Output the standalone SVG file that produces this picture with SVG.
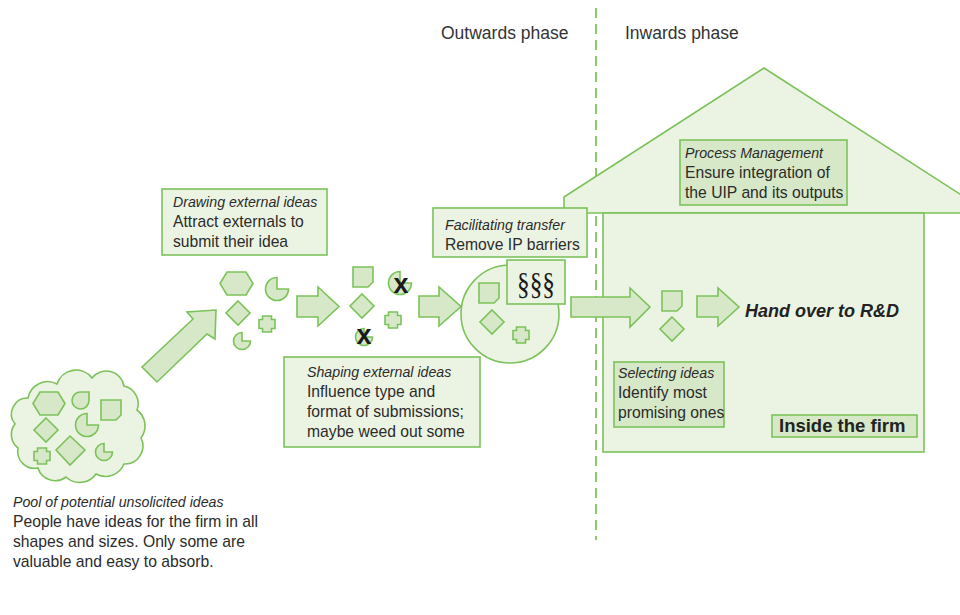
<svg xmlns="http://www.w3.org/2000/svg" width="960" height="615" viewBox="0 0 960 615">
<defs>
<style>
.ln{stroke:#7cc25a;stroke-width:1.6;stroke-linejoin:miter}
.lt{fill:#ebf4e3}
.dk{fill:#d6e8c7}
.t{font-family:"Liberation Sans",Arial,sans-serif;font-size:15.7px;fill:#2b2b2b}
.i{font-style:italic;font-size:14.2px}
.hd{font-family:"Liberation Sans",Arial,sans-serif;font-size:17.5px;fill:#333}
.x{font-family:"Liberation Sans",Arial,sans-serif;font-weight:bold;font-size:27px;fill:#1a1a1a}
</style>
<path id="sq" d="M0,0 H20 V15 L15,20 H0 Z"/>
<path id="cr" d="M-4.5,-8 H4.5 V-4.5 H8 V4.5 H4.5 V8 H-4.5 V4.5 H-8 V-4.5 H-4.5 Z"/>
<path id="dm" d="M0,-12 L12,0 L0,12 L-12,0 Z"/>
<path id="pac" d="M0,0 L0,-11.5 A11.5,11.5 0 1 0 11.5,0 Z"/>
<path id="pacs" d="M0,0 L0,-8.5 A8.5,8.5 0 1 0 8.5,0 Z"/>
</defs>
<rect width="960" height="615" fill="#fff"/>

<!-- phase divider and headers -->
<g id="phases">
<line x1="596" y1="8" x2="596" y2="540" stroke="#8cc96d" stroke-width="2" stroke-dasharray="10,6"/>
<text class="hd" x="441" y="39">Outwards phase</text>
<text class="hd" x="625" y="39">Inwards phase</text>
</g>

<!-- house -->
<g id="firm">
<polygon class="ln lt" points="564,213 564,197 764,68 966,198 966,213"/>
<rect class="ln lt" x="603" y="213" width="321" height="239"/>
</g>

<g id="process-management">
<rect class="ln dk" x="680" y="140" width="167" height="65"/>
<text class="t" x="685" y="158"><tspan class="i">Process Management</tspan><tspan x="685" dy="20">Ensure integration of</tspan><tspan x="685" dy="20">the UIP and its outputs</tspan></text>
</g>

<!-- pool cloud -->
<g id="pool">
<path class="ln lt" d="M28,398 A20,20 0 0 1 57,384 A20,20 0 0 1 92,378 A18,18 0 0 1 124,386 A18,18 0 0 1 137,410 A20,20 0 0 1 141,438 A18,18 0 0 1 124,464 A20,20 0 0 1 96,474 A20,20 0 0 1 66,477 A18,18 0 0 1 38,468 A17,17 0 0 1 18,448 A17,17 0 0 1 15,424 A16,16 0 0 1 28,398 Z"/>
<polygon class="ln dk" points="33,403.5 40,392 58,392 65,403.5 58,415 40,415"/>
<path class="ln dk" d="M81,392 H89 V400.5 A8.5,8.5 0 1 1 81,392 Z"/>
<use href="#sq" x="101" y="400" class="ln dk"/>
<use href="#pac" x="87" y="425" class="ln dk"/>
<use href="#dm" x="46" y="430" class="ln dk"/>
<use href="#cr" x="42" y="456" class="ln dk"/>
<path class="ln dk" d="M70,436 L85,450 L70,465 L56,450 Z"/>
<use href="#pacs" x="104" y="452" class="ln dk"/>
<text class="t" x="13" y="507"><tspan class="i">Pool of potential unsolicited ideas</tspan><tspan x="13" dy="20">People have ideas for the firm in all</tspan><tspan x="13" dy="20">shapes and sizes. Only some are</tspan><tspan x="13" dy="20">valuable and easy to absorb.</tspan></text>
</g>

<!-- drawing -->
<g id="drawing">
<rect class="ln lt" x="162" y="189" width="165" height="66"/>
<text class="t" x="173" y="207"><tspan class="i">Drawing external ideas</tspan><tspan x="173" dy="20">Attract externals to</tspan><tspan x="173" dy="20">submit their idea</tspan></text>
<polygon class="ln dk" points="220,283.5 227,272 246,272 253,283.5 246,295 227,295"/>
<use href="#pac" x="277" y="289" class="ln dk"/>
<use href="#dm" x="238" y="313" class="ln dk"/>
<use href="#cr" x="267" y="324" class="ln dk"/>
<use href="#pacs" x="242" y="341" class="ln dk"/>
</g>

<!-- shaping -->
<g id="shaping">
<rect class="ln lt" x="284" y="357" width="196" height="90"/>
<text class="t" x="307" y="377"><tspan class="i">Shaping external ideas</tspan><tspan x="307" dy="20">Influence type and</tspan><tspan x="307" dy="20">format of submissions;</tspan><tspan x="307" dy="20">maybe weed out some</tspan></text>
<use href="#sq" x="353" y="267" class="ln dk"/>
<use href="#pac" x="400" y="283" class="ln dk"/>
<text class="x" x="401" y="293" text-anchor="middle">x</text>
<use href="#dm" x="362" y="306" class="ln dk"/>
<use href="#cr" x="393" y="320" class="ln dk"/>
<use href="#pacs" x="364" y="337" class="ln dk"/>
<text class="x" x="364" y="344" text-anchor="middle">x</text>
</g>

<!-- facilitating -->
<g id="facilitating">
<circle class="ln lt" cx="510" cy="314" r="49"/>
<use href="#sq" x="479" y="283" class="ln dk"/>
<use href="#dm" x="492" y="322" class="ln dk"/>
<use href="#cr" x="521" y="335" class="ln dk"/>
<rect class="ln lt" x="507" y="260" width="58" height="44"/>
<text x="536" y="295" text-anchor="middle" font-family="'Liberation Serif','Times New Roman',serif" font-size="32" fill="#1a1a1a" textLength="38" lengthAdjust="spacingAndGlyphs">§§§</text>
<rect class="ln lt" x="433" y="208" width="154" height="49"/>
<text class="t" x="445" y="230"><tspan class="i">Facilitating transfer</tspan><tspan x="445" dy="20">Remove IP barriers</tspan></text>
</g>

<!-- selecting -->
<g id="selecting">
<use href="#sq" x="662" y="291" class="ln dk"/>
<use href="#dm" x="672" y="329" class="ln dk"/>
<rect class="ln dk" x="614" y="362" width="110" height="65"/>
<text class="t" x="618" y="378"><tspan class="i">Selecting ideas</tspan><tspan x="618" dy="20">Identify most</tspan><tspan x="618" dy="20">promising ones</tspan></text>
</g>

<g id="handover">
<text x="745" y="317" font-family="'Liberation Sans',Arial,sans-serif" font-size="18" font-weight="bold" font-style="italic" fill="#222">Hand over to R&amp;D</text>
</g>

<g id="inside-label">
<rect class="ln dk" x="772" y="415" width="145" height="22"/>
<text x="779" y="432" font-family="'Liberation Sans',Arial,sans-serif" font-size="18.5" font-weight="bold" fill="#222">Inside the firm</text>
</g>

<!-- connectors -->
<g id="connectors" class="ln dk">
<polygon points="142,367 193,319 187,312 216,310 215,339 207,334 157,382"/>
<polygon points="297,296 318,296 318,287 339,306.5 318,326 318,317 297,317"/>
<polygon points="419,296 439,296 439,287 461,306.5 439,326 439,317 419,317"/>
<polygon points="571,297 630,297 630,288 650,307 630,327 630,317 571,317"/>
<polygon points="697,296 718,296 718,288 739,307 718,326 718,317 697,317"/>
</g>
</svg>
